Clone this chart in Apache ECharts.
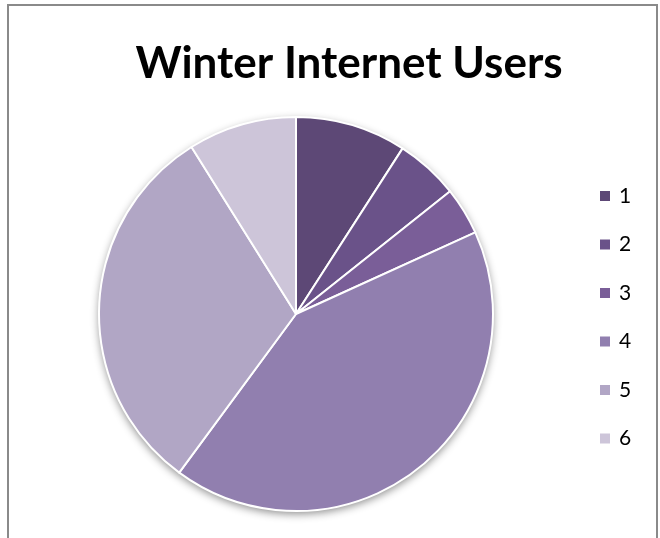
<!DOCTYPE html>
<html>
<head>
<meta charset="utf-8">
<style>
  html, body { margin: 0; padding: 0; background: #fff; }
  #chart { width: 660px; height: 538px; }
</style>
<script src="https://cdn.jsdelivr.net/npm/echarts@6/dist/echarts.min.js"></script>
</head>
<body>
<div id="chart"></div>
<script>
// Share of winter internet users per group (percent)
const categories = ['1', '2', '3', '4', '5', '6'];
const values = [9.1, 5.2, 3.9, 41.9, 31.0, 8.9];
const colors = ['#5d4876', '#6a5289', '#7a5e98', '#917faf', '#b1a6c5', '#cdc5d9'];

const chart = echarts.init(document.getElementById('chart'), null, { renderer: 'canvas' });

chart.setOption({
  animation: false,
  backgroundColor: '#ffffff',
  title: {
    text: 'Winter Internet Users',
    left: 344,
    textAlign: 'center',
    top: 37,
    textStyle: {
      fontFamily: 'Lato, "Open Sans", sans-serif',
      fontWeight: 'bold',
      fontSize: 44,
      color: '#000'
    }
  },
  legend: {
    orient: 'vertical',
    left: 593,
    top: 180,
    icon: 'rect',
    itemWidth: 12,
    itemHeight: 12,
    itemGap: 26.5,
    data: categories,
    textStyle: {
      fontFamily: 'Lato, "Open Sans", sans-serif',
      fontSize: 21,
      lineHeight: 22,
      color: '#000',
      padding: [0, 0, 0, 3]
    }
  },
  graphic: [{
    type: 'rect',
    shape: { x: 8, y: 5, width: 649, height: 560 },
    style: { fill: 'none', stroke: '#8a8a8a', lineWidth: 2 },
    silent: true,
    z: 100
  }],
  series: [
    {
      // soft drop shadow behind the whole pie
      type: 'pie',
      silent: true,
      center: [296, 314],
      radius: 197,
      label: { show: false },
      labelLine: { show: false },
      tooltip: { show: false },
      itemStyle: {
        color: '#ffffff',
        shadowColor: 'rgba(0,0,0,0.45)',
        shadowBlur: 8,
        shadowOffsetY: 3
      },
      data: [{ value: 1, name: '' }],
      z: 1
    },
    {
      type: 'pie',
      center: [296, 314],
      radius: 197,
      startAngle: 90,
      clockwise: true,
      label: { show: false },
      labelLine: { show: false },
      itemStyle: {
        borderColor: '#ffffff',
        borderWidth: 2
      },
      data: categories.map((c, i) => ({
        name: c,
        value: values[i],
        itemStyle: { color: colors[i] }
      })),
      z: 2
    }
  ]
});
</script>
</body>
</html>
